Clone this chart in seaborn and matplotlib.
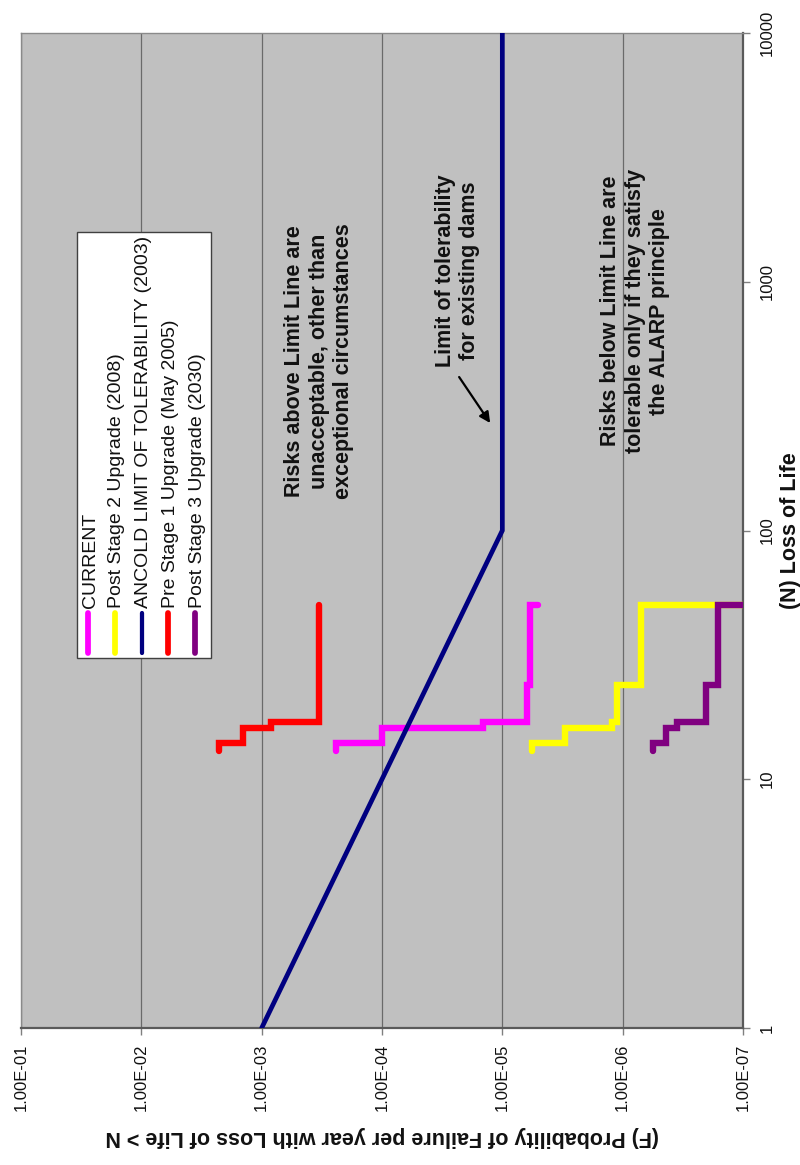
import numpy as np
import pandas as pd
import matplotlib
matplotlib.use("Agg")
import matplotlib.pyplot as plt
from matplotlib.lines import Line2D
from matplotlib.patches import Rectangle
from matplotlib.ticker import FixedLocator, FixedFormatter, NullLocator
import seaborn as sns

# Loss-of-life thresholds at which the F-N steps change
n_breaks = [13, 14, 16, 17, 24, 50]

# Annual probability of failure for each interval between thresholds,
# followed by the value reached at the last threshold
f_current = [2.42e-4, 1.0e-4, 1.44e-5, 6.2e-6, 5.9e-6, 5.1e-6]
f_stage2 = [5.7e-6, 3.0e-6, 1.23e-6, 1.12e-6, 7.1e-7, 1.0e-7]
f_pre_stage1 = [2.26e-3, 1.43e-3, 8.4e-4, 3.33e-4, 3.33e-4, 3.33e-4]
f_stage3 = [5.55e-7, 4.37e-7, 3.54e-7, 2.02e-7, 1.60e-7, 1.0e-7]

# ANCOLD limit of tolerability (2003)
ancold_n = [1, 100, 10000]
ancold_f = [1e-3, 1e-5, 1e-5]

f_ticks = [1e-1, 1e-2, 1e-3, 1e-4, 1e-5, 1e-6, 1e-7]
f_tick_labels = ["1.00E-01", "1.00E-02", "1.00E-03", "1.00E-04",
                 "1.00E-05", "1.00E-06", "1.00E-07"]
n_ticks = [1, 10, 100, 1000, 10000]
n_tick_labels = ["1", "10", "100", "1000", "10000"]

series_labels = ["CURRENT", "Post Stage 2 Upgrade (2008)",
                 "ANCOLD LIMIT OF TOLERABILITY (2003)",
                 "Pre Stage 1 Upgrade (May 2005)", "Post Stage 3 Upgrade (2030)"]
series_colors = ["#FF00FF", "#FFFF00", "#000080", "#FF0000", "#800080"]


def fn_steps(f_levels):
    """Vertices of an F-N step curve (F constant between thresholds)."""
    ns, fs = [], []
    for i in range(len(n_breaks) - 1):
        ns += [n_breaks[i], n_breaks[i + 1]]
        fs += [f_levels[i], f_levels[i]]
    ns.append(n_breaks[-1])
    fs.append(f_levels[-1])
    return pd.DataFrame({"F": fs, "N": ns})


sns.set_theme(style="white")
plt.rcParams["font.family"] = ["Liberation Sans", "DejaVu Sans"]

fig = plt.figure(figsize=(8.0, 11.65), dpi=100)
ax = fig.add_axes([21 / 800, 1 - 1028 / 1165, 722 / 800, 995 / 1165])
ax.set_facecolor("#C0C0C0")
ax.set_xscale("log")
ax.set_yscale("log")
ax.set_xlim(1e-1, 1e-7)
ax.set_ylim(1, 10000)

# Series, drawn in legend order so later ones sit on top
curves = {
    "CURRENT": fn_steps(f_current),
    "Post Stage 2 Upgrade (2008)": fn_steps(f_stage2),
    "ANCOLD LIMIT OF TOLERABILITY (2003)": pd.DataFrame({"F": ancold_f, "N": ancold_n}),
    "Pre Stage 1 Upgrade (May 2005)": fn_steps(f_pre_stage1),
    "Post Stage 3 Upgrade (2030)": fn_steps(f_stage3),
}
widths = {"ANCOLD LIMIT OF TOLERABILITY (2003)": 3.4}
for label, color in zip(series_labels, series_colors):
    sns.lineplot(data=curves[label], x="F", y="N", sort=False, estimator=None,
                 color=color, lw=widths.get(label, 4.6), ax=ax,
                 solid_capstyle="round", solid_joinstyle="miter", zorder=3)

# Grid and axes
ax.grid(False)
ax.xaxis.set_major_locator(FixedLocator(f_ticks))
ax.xaxis.set_major_formatter(FixedFormatter(f_tick_labels))
ax.xaxis.set_minor_locator(NullLocator())
ax.yaxis.set_major_locator(FixedLocator(n_ticks))
ax.yaxis.set_major_formatter(FixedFormatter(n_tick_labels))
ax.yaxis.set_minor_locator(NullLocator())
ax.yaxis.tick_right()
for f in f_ticks:
    ax.axvline(f, color="#6a6a6a", lw=0.9, zorder=1)

for side in ["top", "left"]:
    ax.spines[side].set_color("#8a8a8a")
    ax.spines[side].set_linewidth(1.0)
for side in ["bottom", "right"]:
    ax.spines[side].set_color("#5a5a5a")
    ax.spines[side].set_linewidth(1.6)

ax.tick_params(axis="x", bottom=True, direction="out", length=5, width=1,
               color="#808080", labelsize=12, labelrotation=90, pad=6,
               labelcolor="#111111")
ax.tick_params(axis="y", right=True, left=False, direction="out", length=5,
               width=1, color="#808080", labelsize=12, labelrotation=90,
               pad=7, labelcolor="#111111")
for t in ax.get_yticklabels():
    t.set_verticalalignment("center")

ax.set_xlabel("(F) Probability of Failure per year with Loss of Life > N",
              fontsize=15.5, fontweight="bold", rotation=180, color="#111111")
ax.xaxis.set_label_coords(0.5, -0.098)
ax.yaxis.set_label_position("right")
ax.set_ylabel("(N) Loss of Life", fontsize=15.5, fontweight="bold",
              rotation=90, color="#111111")
ax.yaxis.set_label_coords(1.051, 0.5)

# Region notes
note_kw = dict(rotation=90, ha="center", va="center", multialignment="center",
               fontsize=15.5, fontweight="bold", color="#111111", zorder=4)
ax.text(10 ** -3.477, 10 ** 2.681,
        "Risks above Limit Line are\nunacceptable, other than\nexceptional circumstances",
        **note_kw)
ax.text(10 ** -4.628, 10 ** 3.043, "Limit of tolerability\nfor existing dams",
        **note_kw)
ax.text(10 ** -6.104, 10 ** 2.882,
        "Risks below Limit Line are\ntolerable only if they satisfy\nthe ALARP principle",
        **note_kw)
ax.annotate("", xy=(10 ** -4.899, 10 ** 2.432), xytext=(10 ** -4.641, 10 ** 2.617),
            arrowprops=dict(arrowstyle="-|>", color="black", lw=1.6,
                            mutation_scale=16, shrinkA=0, shrinkB=0), zorder=4)

# Legend box, laid out along the rotated reading direction
bx0, bx1 = (77 - 21) / 722, (211 - 21) / 722
by0, by1 = (1028 - 658) / 995, (1028 - 232) / 995
ax.add_patch(Rectangle((bx0, by0), bx1 - bx0, by1 - by0, transform=ax.transAxes,
                       facecolor="white", edgecolor="#404040", lw=1.0, zorder=5))
for i, (label, color) in enumerate(zip(series_labels, series_colors)):
    ex = (88 + i * 26.75 - 21) / 722
    ax.add_line(Line2D([ex, ex], [(1028 - 653) / 995, (1028 - 613) / 995],
                       transform=ax.transAxes, color=color,
                       lw=widths.get(label, 4.6) * 0.9, solid_capstyle="round",
                       zorder=6))
    ax.text(ex + 0.003, (1028 - 608) / 995, label, transform=ax.transAxes,
            rotation=90, rotation_mode="anchor", ha="left", va="center",
            fontsize=14, color="#111111", zorder=6)

fig.savefig("out.png", dpi=100, facecolor="white")
